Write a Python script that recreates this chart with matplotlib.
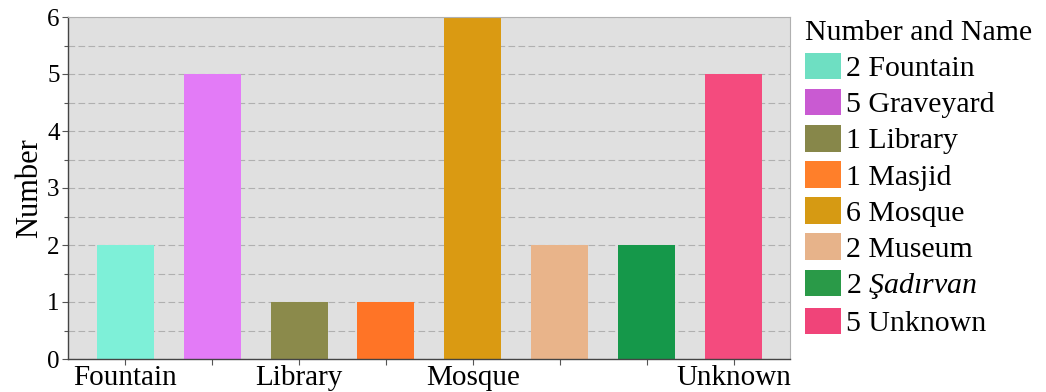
import matplotlib
matplotlib.use("Agg")
import matplotlib.pyplot as plt
from matplotlib.patches import Patch
from matplotlib.ticker import MultipleLocator

plt.rcParams["font.family"] = ["Liberation Serif", "DejaVu Serif"]
plt.rcParams["mathtext.fontset"] = "custom"
plt.rcParams["mathtext.rm"] = "Liberation Serif"
plt.rcParams["mathtext.it"] = "Liberation Serif:italic"

# Counts per site type
categories = ["Fountain", "Graveyard", "Library", "Masjid",
              "Mosque", "Museum", "Şadırvan", "Unknown"]
counts = [2, 5, 1, 1, 6, 2, 2, 5]
tick_labels = ["Fountain", "", "Library", "", "Mosque", "", "", "Unknown"]
legend_names = ["Fountain", "Graveyard", "Library", "Masjid",
                "Mosque", "Museum", r"$\it{Şadırvan}$", "Unknown"]

bar_colors = ["#7ef0d8", "#e37bf7", "#8b8a4b", "#ff7426",
              "#da9a12", "#e9b48a", "#15984a", "#f44b7e"]
legend_colors = ["#6edfc2", "#c95ad2", "#87874a", "#ff7f2a",
                 "#d69a13", "#e7b38a", "#2a9a48", "#f04479"]

fig = plt.figure(figsize=(10.46, 3.92), dpi=100)
ax = fig.add_axes([68 / 1046, 33 / 392, 722 / 1046, 342 / 392])
ax.set_facecolor("#e0e0e0")

x = list(range(len(categories)))
ax.bar(x, counts, width=0.656, color=bar_colors, zorder=2)

ax.set_xlim(-0.66, 7.65)
ax.set_ylim(0, 6)
ax.yaxis.set_major_locator(MultipleLocator(1))
ax.yaxis.set_minor_locator(MultipleLocator(0.5))
ax.grid(axis="y", which="both", linestyle=(0, (6, 3)), color="#b0b0b0",
        linewidth=0.8, zorder=1)

ax.set_xticks(x)
ax.set_xticklabels(tick_labels, fontsize=21)
ax.tick_params(axis="x", length=4, width=0.8, color="#555555", pad=0.5)
ax.tick_params(axis="y", which="major", labelsize=18, length=4, width=0.8,
               color="#555555", pad=2)
ax.tick_params(axis="y", which="minor", length=3, width=0.8, color="#555555")
ax.set_ylabel("Number", fontsize=22, labelpad=2)

for side in ("left", "bottom"):
    ax.spines[side].set_color("#444444")
    ax.spines[side].set_linewidth(1.0)
for side in ("top", "right"):
    ax.spines[side].set_color("#b0b0b0")
    ax.spines[side].set_linewidth(0.8)

handles = [Patch(facecolor=c, edgecolor="none") for c in legend_colors]
labels = [f"{n} {name}" for n, name in zip(counts, legend_names)]
leg = fig.legend(handles, labels, title="Number and Name",
                 loc="upper left", bbox_to_anchor=(805 / 1046, 1 - 20 / 392),
                 frameon=False, fontsize=21.5, title_fontsize=21.5,
                 handlelength=1.2, handleheight=1.0, handletextpad=0.17,
                 labelspacing=0.22, borderpad=0, borderaxespad=0)
leg._legend_box.align = "left"

fig.savefig("out.png", dpi=100)
